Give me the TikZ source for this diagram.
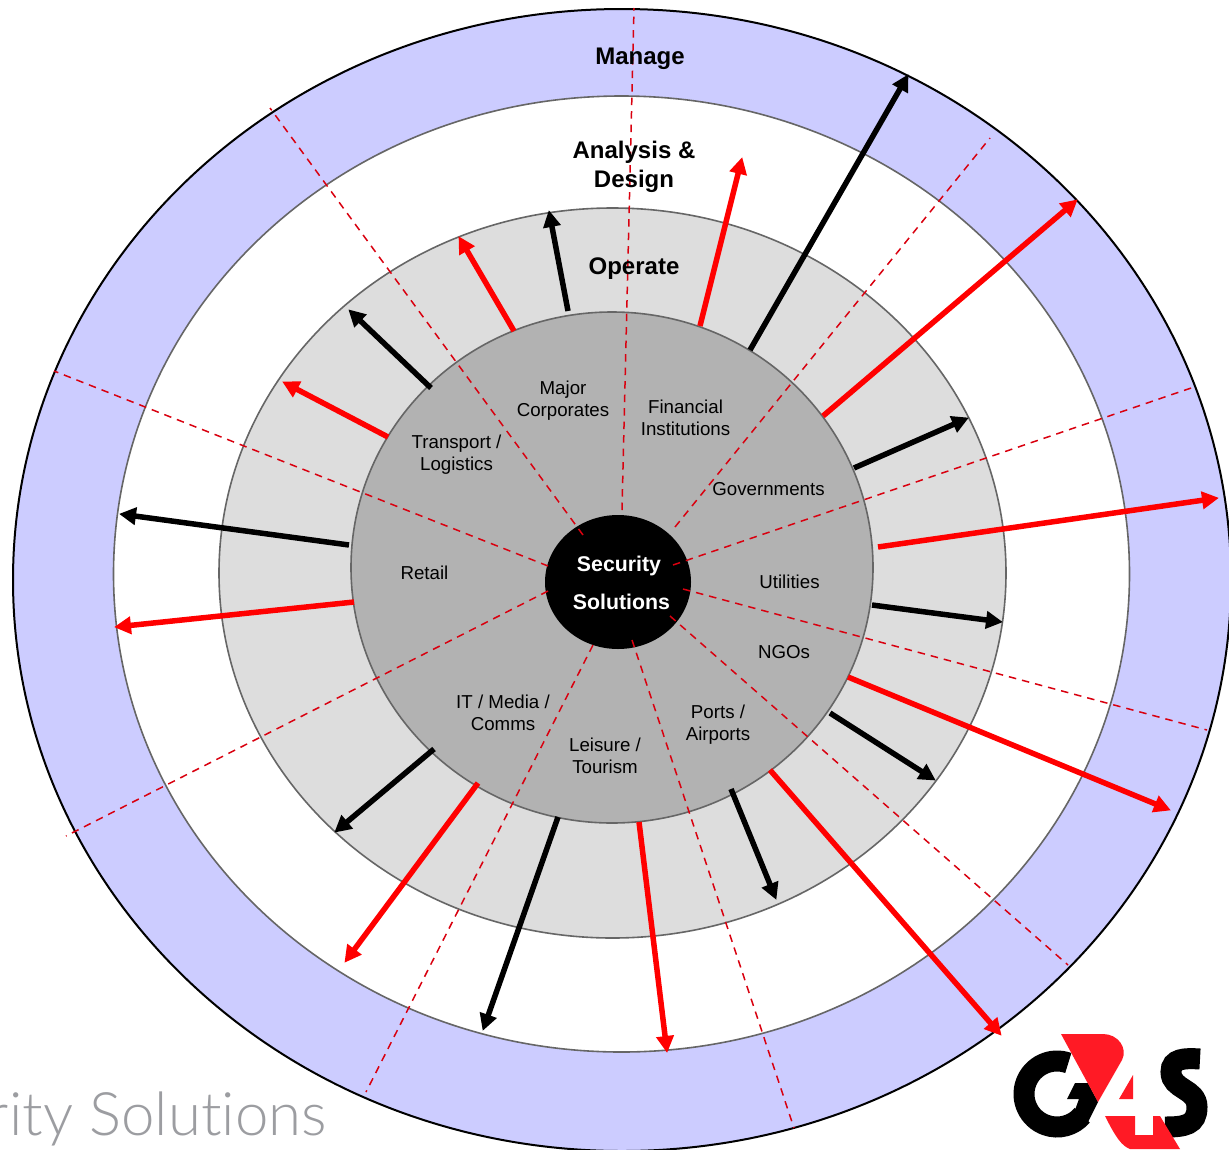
\documentclass[tikz,border=0pt]{standalone}
\usepackage{fontspec}
\setmainfont{Liberation Sans}
\newfontfamily\logofont[Ligatures=NoCommon]{Lato Light}
\usetikzlibrary{arrows.meta}
\definecolor{ringblue}{HTML}{CCCCFF}
\definecolor{ringgrey}{HTML}{DDDDDD}
\definecolor{coregrey}{HTML}{B2B2B2}
\definecolor{edgegrey}{HTML}{666666}
\definecolor{dashred}{HTML}{D9000F}
\definecolor{logored}{HTML}{FF1A25}
\definecolor{wordgrey}{HTML}{9C9DA1}
\tikzset{
  spoke/.style={draw=dashred,line width=1.5pt,dash pattern=on 7.5pt off 6pt},
  blackarrow/.style={draw=black,line width=5.5pt,-{Triangle[length=17pt,width=17pt]},shorten >=-1pt},
  redarrow/.style={draw=red,line width=5.5pt,-{Triangle[length=17pt,width=17pt]},shorten >=-1pt},
  sector/.style={inner sep=0pt,align=center,text=black,font=\fontsize{18.7}{22}\selectfont},
  phase/.style={inner sep=0pt,align=center,text=black,font=\fontsize{24}{29}\selectfont\bfseries},
}
\begin{document}
\begin{tikzpicture}[x=1pt,y=-1pt]
\useasboundingbox (0,0) rectangle (1229,1149);
\fill[white] (0,0) rectangle (1229,1149);
% rings
\draw[fill=ringblue,draw=black,line width=2pt] (622,580) ellipse [x radius=609pt,y radius=571pt];
\draw[fill=white,draw=edgegrey,line width=1.6pt] (621.5,574) ellipse [x radius=508pt,y radius=478pt];
\draw[fill=ringgrey,draw=edgegrey,line width=1.6pt] (612.5,573) ellipse [x radius=393.5pt,y radius=365pt];
\draw[fill=coregrey,draw=edgegrey,line width=1.6pt] (612,567.5) ellipse [x radius=261pt,y radius=255.5pt];
\fill[black] (618,582) ellipse [x radius=73pt,y radius=67pt];
% spokes
\foreach \n/\sx/\sy/\ex/\ey in {
 a/622/510/634/8, b/675/527/990/138, c/673/565/1194/387, d/683/589/1207/730,
 e/670/616/1068/965, f/632/640/794/1128, g/593/645/366/1092, h/548/591/66/836,
 i/548/566/54/371, j/583/535/270/108}{
  \coordinate (sp\n) at (\sx,\sy);
  \coordinate (se\n) at (\ex,\ey);
  \draw[spoke] (sp\n) -- (se\n);
}
% black arrows
\foreach \n/\sx/\sy/\ex/\ey in {
 a/568/311/549/211, b/431/388/349/310, c/349/545/120/514, d/434/749/335/832,
 e/558/817/483/1030, f/731/789/776/899, g/830/713/935/780, h/872/605/1002/622,
 i/854/468/968/418, j/750/350/908/75}{
  \coordinate (bs\n) at (\sx,\sy);
  \coordinate (be\n) at (\ex,\ey);
  \draw[blackarrow] (bs\n) -- (be\n);
}
% red arrows
\foreach \n/\sx/\sy/\ex/\ey in {
 a/514/331/459/237, b/388/437/283/382, c/354/602/115/627, d/478/783/345/962,
 e/639/822/667/1052, f/770/770/1001/1035, g/848/677/1170/810, h/878/547/1218/498,
 i/823/416/1077/200, j/700/326/742/158}{
  \coordinate (rs\n) at (\sx,\sy);
  \coordinate (re\n) at (\ex,\ey);
  \draw[redarrow] (rs\n) -- (re\n);
}
% phase labels
\node[phase] (manage) at (640,59) {Manage};
\node[phase] (analysis) at (634,167) {Analysis \&\\Design};
\node[phase] (operate) at (634,269) {Operate};
% sectors
\node[sector] (major) at (563,401) {Major\\Corporates};
\node[sector] (financial) at (685.5,418) {Financial\\Institutions};
\node[sector] (governments) at (768.5,489) {Governments};
\node[sector] (utilities) at (789.5,582) {Utilities};
\node[sector] (ngos) at (784,652) {NGOs};
\node[sector] (ports) at (718,725) {Ports /\\Airports};
\node[sector] (leisure) at (605,756) {Leisure /\\Tourism};
\node[sector] (itmedia) at (503,713) {IT / Media /\\Comms};
\node[sector] (retail) at (424.5,573) {Retail};
\node[sector] (transport) at (456.5,455) {Transport /\\Logistics};
% hub
\node[inner sep=0pt,text=white,font=\fontsize{21.3}{38}\selectfont\bfseries,align=center] (hub) at (619,583) {Security\hspace{5pt}\\\hspace{5pt}Solutions};
% word mark
\node[inner sep=0pt,anchor=base east,text=wordgrey,font=\fontsize{60}{60}\logofont] (wordmark) at (327,1135) {rit{}y Solut{}ions};
% logo
\draw[black,line width=21pt] (1057,1094) ++(70:33pt) arc [start angle=70,end angle=320,radius=33pt];
\fill[black] (1067,1099) -- (1075,1083) -- (1088,1083) -- (1098,1102) -- (1087,1124) -- (1075,1110) -- (1079,1099) -- cycle;
\draw[black,line width=21pt] (1200,1059) .. controls (1185,1058) and (1171,1058) .. (1171,1072) .. controls (1171,1090) and (1197,1088) .. (1197,1107) .. controls (1197,1125) and (1185,1127) .. (1165,1127);
\fill[logored] (1061,1034) -- (1103,1034) .. controls (1118,1034) and (1128,1048) .. (1122,1060) -- (1098,1102) -- cycle;
\fill[logored] (1133,1075) -- (1133,1099) -- (1119,1099) -- cycle;
\fill[logored] (1105,1116) -- (1135,1116) -- (1135,1135) -- (1153,1135) -- (1153,1116) -- (1160,1116) -- (1180,1149) -- (1130,1149) .. controls (1122,1146) and (1116,1138) .. cycle;
\end{tikzpicture}
\end{document}
